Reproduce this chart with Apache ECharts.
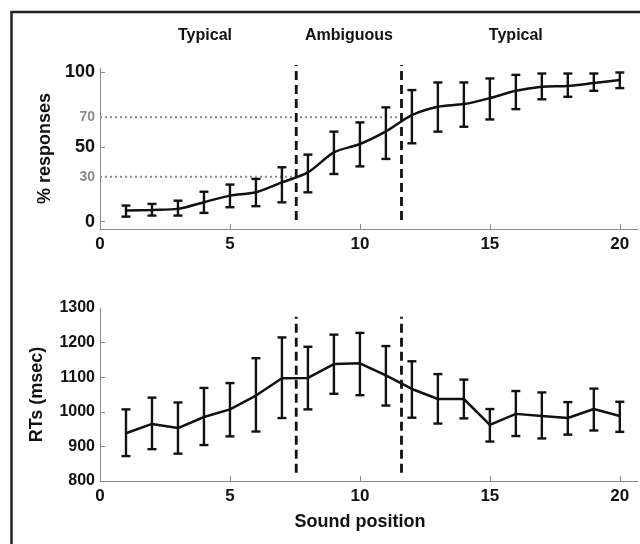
<!DOCTYPE html>
<html><head><meta charset="utf-8">
<script src="https://cdn.jsdelivr.net/npm/echarts@6/dist/echarts.min.js"></script>
<style>html,body{margin:0;padding:0;background:#fff}#c{width:640px;height:544px}</style>
</head><body><div id="c"></div>
<script>
// ---- data ----
const soundPositions = [1,2,3,4,5,6,7,8,9,10,11,12,13,14,15,16,17,18,19,20];
const pctMean = [7.4, 7.8, 8.5, 13, 17.4, 19.6, 26.3, 33, 46.4, 52, 60.5, 71.4, 77, 78.8, 82.8, 87.7, 90.4, 91, 92.9, 94.9];
const pctLow  = [3.3, 4.0, 4.0, 5.8, 9.6, 10.3, 12.9, 19.6, 31.9, 37, 42, 52.5, 60.3, 63.6, 68.5, 75.4, 82, 83.7, 87.7, 89.5];
const pctHigh = [10.7, 11.8, 14, 20, 24.8, 28.6, 36.4, 44.9, 60.3, 66.5, 76.6, 88.2, 93.3, 93.3, 96, 98.4, 99.3, 99.3, 99.3, 100];
const rtMean = [938, 965, 953, 985, 1007, 1047, 1097, 1098, 1138, 1140, 1105, 1066, 1037, 1037, 962, 994, 988, 982, 1008, 988];
const rtLow  = [872, 892, 879, 904, 929, 943, 982, 1007, 1052, 1048, 1018, 983, 966, 981, 914, 930, 923, 934, 946, 942];
const rtHigh = [1007, 1041, 1027, 1069, 1083, 1155, 1215, 1188, 1223, 1228, 1190, 1146, 1109, 1093, 1008, 1060, 1056, 1028, 1067, 1029];
const xTickLabels = [0, 5, 10, 15, 20];
const pctTickLabels = [0, 30, 50, 70, 100];
const pctTickMarks = [0, 50, 100];
const pctGrayLabels = [30, 70];
const rtTickLabels = [800, 900, 1000, 1100, 1200, 1300];
const rtTickMarks = [900, 1000, 1100, 1200];
const boundaryX = [7.55, 11.6];
const boundarySpanPct = [1, 105];
const boundarySpanRt = [824, 1275];
const criterionLevels = [30, 70];
const criterionEnds = [7.55, 11.6];
const regionNames = ['Typical', 'Ambiguous', 'Typical'];
const regionCenters = [4.04, 9.58, 16.0];
const regionLabelLevel = 125;
const xAxisTitle = 'Sound position';
const xTitleAt = 10;

const FONT = 'Liberation Sans';
const AX = '#8a8a8a';
const INK = '#111';

const chart = echarts.init(document.getElementById('c'), null, {renderer: 'canvas'});

function errRender(params, api) {
  const x = api.value(0);
  const lo = api.coord([x, api.value(1)]);
  const hi = api.coord([x, api.value(2)]);
  const w = 4.5;
  const st = {stroke: INK, lineWidth: 2.4};
  return {type: 'group', children: [
    {type: 'line', shape: {x1: lo[0], y1: lo[1], x2: hi[0], y2: hi[1]}, style: st},
    {type: 'line', shape: {x1: lo[0] - w, y1: lo[1], x2: lo[0] + w, y2: lo[1]}, style: st},
    {type: 'line', shape: {x1: hi[0] - w, y1: hi[1], x2: hi[0] + w, y2: hi[1]}, style: st}
  ]};
}

function xAxisDef(gi) {
  return {
    type: 'value', gridIndex: gi, min: 0, max: 20.7,
    axisLine: {onZero: false, lineStyle: {color: AX, width: 1}},
    axisTick: {inside: true, length: 5, lineStyle: {color: AX}, customValues: xTickLabels},
    axisLabel: {customValues: xTickLabels, margin: 7, color: INK, fontSize: 17, fontWeight: 'bold', fontFamily: FONT,
      formatter: v => String(v)},
    splitLine: {show: false}
  };
}

const series = [];
// criterion dotted lines (top panel)
criterionLevels.forEach((lv, i) => {
  series.push({
    type: 'line', xAxisIndex: 0, yAxisIndex: 0, symbol: 'none', silent: true,
    data: [[0, lv], [criterionEnds[i], lv]],
    lineStyle: {color: '#8a8a8a', width: 2, type: [2, 3]}, z: 1
  });
});
// boundary dashed lines
boundaryX.forEach(b => {
  series.push({
    type: 'line', xAxisIndex: 0, yAxisIndex: 0, symbol: 'none', silent: true, clip: false,
    data: [[b, boundarySpanPct[0]], [b, boundarySpanPct[1]]],
    lineStyle: {color: INK, width: 2.8, type: [9, 5]}, z: 2
  });
  series.push({
    type: 'line', xAxisIndex: 1, yAxisIndex: 1, symbol: 'none', silent: true, clip: false,
    data: [[b, boundarySpanRt[0]], [b, boundarySpanRt[1]]],
    lineStyle: {color: INK, width: 2.8, type: [9, 5]}, z: 2
  });
});
series.push({
  type: 'line', xAxisIndex: 0, yAxisIndex: 0, symbol: 'none', smooth: 0.3,
  data: soundPositions.map((p, i) => [p, pctMean[i]]),
  lineStyle: {color: INK, width: 2.5}, z: 3
});
series.push({
  type: 'custom', xAxisIndex: 0, yAxisIndex: 0, renderItem: errRender,
  encode: {x: 0, y: [1, 2]},
  data: soundPositions.map((p, i) => [p, pctLow[i], pctHigh[i]]), z: 4
});
series.push({
  type: 'line', xAxisIndex: 1, yAxisIndex: 1, symbol: 'none',
  data: soundPositions.map((p, i) => [p, rtMean[i]]),
  lineStyle: {color: INK, width: 2.5}, z: 3
});
series.push({
  type: 'custom', xAxisIndex: 1, yAxisIndex: 1, renderItem: errRender,
  encode: {x: 0, y: [1, 2]},
  data: soundPositions.map((p, i) => [p, rtLow[i], rtHigh[i]]), z: 4
});

chart.setOption({
  animation: false,
  backgroundColor: '#fff',
  textStyle: {fontFamily: FONT},
  grid: [
    {left: 100, width: 538, top: 68, height: 161},
    {left: 100, width: 538, top: 308, height: 173}
  ],
  xAxis: [xAxisDef(0), xAxisDef(1)],
  yAxis: [
    {
      type: 'value', gridIndex: 0, min: -5, max: 103,
      name: '% responses', nameLocation: 'middle', nameRotate: 90, nameGap: 44,
      nameTextStyle: {color: INK, fontSize: 18, fontWeight: 'bold', fontFamily: FONT},
      axisLine: {onZero: false, lineStyle: {color: AX, width: 1}},
      axisTick: {inside: true, length: 5, lineStyle: {color: AX}, customValues: pctTickMarks},
      axisLabel: {
        customValues: pctTickLabels, margin: 5, fontWeight: 'bold', fontFamily: FONT,
        formatter: v => pctGrayLabels.indexOf(v) >= 0 ? '{g|' + v + '}' : '{b|' + v + '}',
        rich: {
          g: {color: '#8a8a8a', fontSize: 14, fontWeight: 'bold', fontFamily: FONT},
          b: {color: INK, fontSize: 18, fontWeight: 'bold', fontFamily: FONT}
        }
      },
      splitLine: {show: false}
    },
    {
      type: 'value', gridIndex: 1, min: 800, max: 1300,
      name: 'RTs (msec)', nameLocation: 'middle', nameRotate: 90, nameGap: 54,
      nameTextStyle: {color: INK, fontSize: 18, fontWeight: 'bold', fontFamily: FONT},
      axisLine: {onZero: false, lineStyle: {color: AX, width: 1}},
      axisTick: {inside: true, length: 5, lineStyle: {color: AX}, customValues: rtTickMarks},
      axisLabel: {customValues: rtTickLabels, margin: 5, color: INK, fontSize: 16, fontWeight: 'bold', fontFamily: FONT,
        formatter: v => String(v)},
      splitLine: {show: false}
    }
  ],
  series: series
});

// texts placed through the axes' scales
const graphics = [{
  type: 'rect', silent: true, z: 10,
  shape: {x: 11.5, y: 12, width: 700, height: 700},
  style: {fill: 'none', stroke: '#222', lineWidth: 2.5}
}];
regionNames.forEach((name, i) => {
  const p = chart.convertToPixel({gridIndex: 0}, [regionCenters[i], regionLabelLevel]);
  graphics.push({
    type: 'text', x: p[0], y: p[1], silent: true,
    style: {text: name, fill: INK, font: 'bold 16px "' + FONT + '"', align: 'center', verticalAlign: 'middle'}
  });
});
const xt = chart.convertToPixel({gridIndex: 1}, [xTitleAt, 800]);
graphics.push({
  type: 'text', x: xt[0], y: xt[1] + 41, silent: true,
  style: {text: xAxisTitle, fill: INK, font: 'bold 18px "' + FONT + '"', align: 'center', verticalAlign: 'middle'}
});
chart.setOption({graphic: graphics});
</script>
</body></html>
